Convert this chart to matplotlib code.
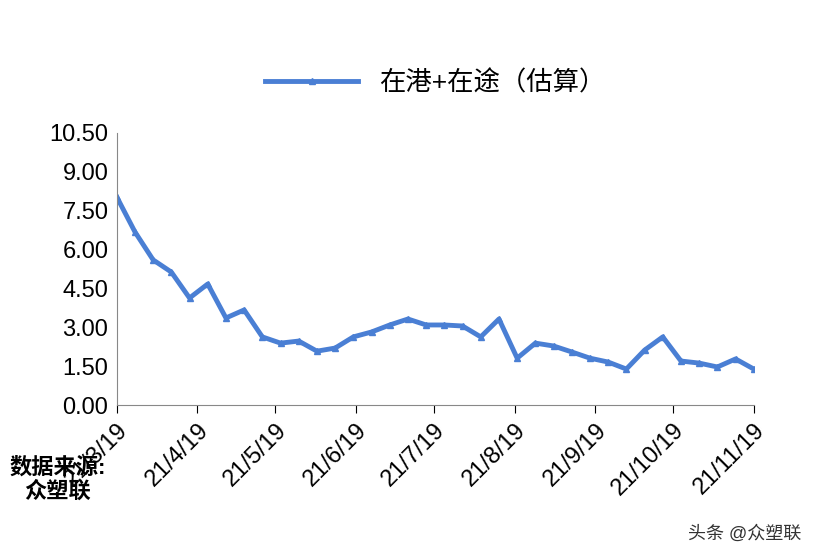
import numpy as np
import matplotlib.pyplot as plt
import pandas as pd

plt.rcParams['font.family'] = ['Liberation Sans', 'Noto Sans CJK SC', 'DejaVu Sans']

dates = pd.date_range('2021-03-19', periods=36, freq='7D')
values = [8.03, 6.68, 5.60, 5.13, 4.13, 4.67, 3.36, 3.67, 2.63, 2.39, 2.47, 2.08,
          2.20, 2.63, 2.82, 3.09, 3.32, 3.09, 3.09, 3.05, 2.63, 3.32, 1.81, 2.39,
          2.28, 2.05, 1.81, 1.66, 1.39, 2.12, 2.63, 1.70, 1.62, 1.47, 1.78, 1.39]
tick_dates = [pd.Timestamp(2021, m, 19) for m in range(3, 12)]
tick_labels = [f"21/{d.month}/19" for d in tick_dates]
yticks = np.arange(0, 10.51, 1.5)

fig = plt.figure(figsize=(8.22, 5.58), dpi=100)
ax = fig.add_axes([0.142, 0.274, 0.775, 0.488])
ax.plot(dates, values, color='#4a7fd4', lw=3.5, marker='^', ms=4, label='在港+在途（估算）')
ax.set_ylim(0, 10.5)
ax.set_yticks(yticks)
ax.set_yticklabels([f"{v:.2f}" for v in yticks], fontsize=17)
ax.set_xlim(dates[0], dates[-1])
ax.set_xticks(tick_dates)
ax.set_xticklabels(tick_labels, rotation=45, ha='right', rotation_mode='anchor', fontsize=17)
ax.tick_params(axis='x', length=6, pad=4)
ax.tick_params(axis='y', length=0, pad=6)
for s in ['top', 'right']:
    ax.spines[s].set_visible(False)
ax.spines['left'].set_color('#888888')
ax.spines['bottom'].set_color('#888888')
ax.legend(loc='lower center', bbox_to_anchor=(0.5, 1.05), frameon=False, fontsize=19,
          handlelength=3.5)
fig.text(0.07, 0.14, '数据来源:\n众塑联', fontsize=16, fontweight='bold', ha='center', va='center')
fig.text(0.975, 0.035, '头条 @众塑联', fontsize=13, color='#333333', ha='right')
fig.savefig('out.png')
